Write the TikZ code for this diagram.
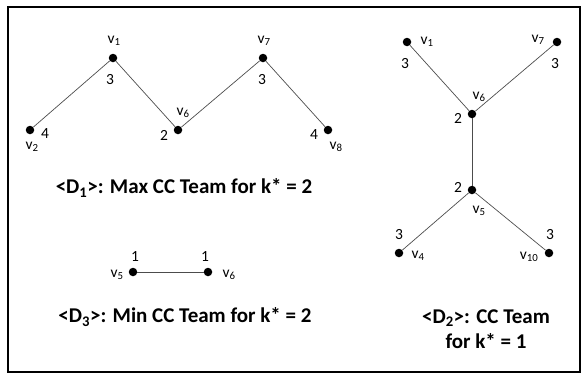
\documentclass[tikz,border=0pt]{standalone}
\usepackage{fontspec}
\setmainfont{Carlito}
\begin{document}
\begin{tikzpicture}[x=1pt,y=-1pt,
  dot/.style={circle,fill=black,inner sep=0pt,minimum size=8.5pt},
  edge/.style={draw=black!70,line width=0.7pt},
  lbl/.style={font=\fontsize{15.5}{18}\selectfont,inner sep=0pt},
  ttl/.style={font=\fontsize{21}{25}\selectfont\bfseries,inner sep=0pt,align=center}]
\useasboundingbox (0,0) rectangle (584,375);
\node[draw=black,line width=1.2pt,minimum width=572pt,minimum height=365pt,inner sep=0pt] (frame) at (294,189.5) {};
% D1
\node[dot] (a1) at (113,58) {};
\node[dot] (a2) at (30,130) {};
\node[dot] (a6) at (178,130) {};
\node[dot] (a7) at (263,58) {};
\node[dot] (a8) at (328,130) {};
\draw[edge] (a2) -- (a1) -- (a6) -- (a7) -- (a8);
\node[lbl] (la1) at (114,41) {v\textsubscript{1}};
\node[lbl] (na1) at (110,80) {3};
\node[lbl] (la2) at (32,147) {v\textsubscript{2}};
\node[lbl] (na2) at (45,134) {4};
\node[lbl] (la6) at (183,113) {v\textsubscript{6}};
\node[lbl] (na6) at (164,135) {2};
\node[lbl] (la7) at (264,41) {v\textsubscript{7}};
\node[lbl] (na7) at (262,80) {3};
\node[lbl] (la8) at (336,147) {v\textsubscript{8}};
\node[lbl] (na8) at (314,135) {4};
\node[ttl] (t1) at (184,188) {<D\textsubscript{1}>: Max CC Team for k* = 2};
% D3
\node[dot] (c5) at (133,272) {};
\node[dot] (c6) at (208,272) {};
\draw[edge] (c5) -- (c6);
\node[lbl] (nc5) at (135,257) {1};
\node[lbl] (nc6) at (205,257) {1};
\node[lbl] (lc5) at (117,275) {v\textsubscript{5}};
\node[lbl] (lc6) at (229,275) {v\textsubscript{6}};
\node[ttl] (t3) at (185,317) {<D\textsubscript{3}>: Min CC Team for k* = 2};
% D2
\node[dot] (b1) at (407,42) {};
\node[dot] (b7) at (557,42) {};
\node[dot] (b6) at (472,114) {};
\node[dot] (b5) at (472,190) {};
\node[dot] (b4) at (399,253) {};
\node[dot] (b10) at (549,253) {};
\draw[edge] (b1) -- (b6) -- (b7);
\draw[edge] (b6) -- (b5);
\draw[edge] (b4) -- (b5) -- (b10);
\node[lbl] (lb1) at (427,42) {v\textsubscript{1}};
\node[lbl] (nb1) at (405,64) {3};
\node[lbl] (lb7) at (538,40) {v\textsubscript{7}};
\node[lbl] (nb7) at (555,64) {3};
\node[lbl] (lb6) at (479,97) {v\textsubscript{6}};
\node[lbl] (nb6) at (458,118) {2};
\node[lbl] (nb5) at (458,187) {2};
\node[lbl] (lb5) at (479,211) {v\textsubscript{5}};
\node[lbl] (nb4) at (399,235) {3};
\node[lbl] (lb4) at (418,256) {v\textsubscript{4}};
\node[lbl] (nb10) at (550,235) {3};
\node[lbl] (lb10) at (529,257) {v\textsubscript{10}};
\node[ttl] (t2) at (486,329) {<D\textsubscript{2}>: CC Team\\for k* = 1};
\end{tikzpicture}
\end{document}
